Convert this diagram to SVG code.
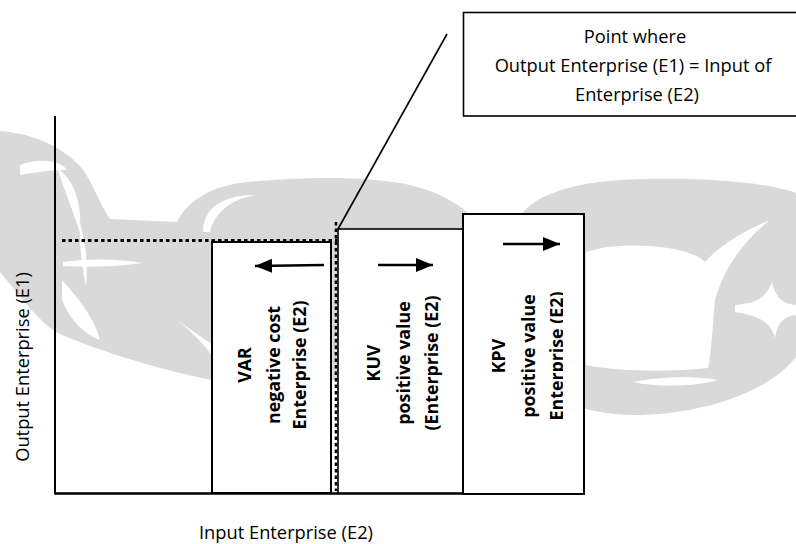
<svg xmlns="http://www.w3.org/2000/svg" width="796" height="544" viewBox="0 0 796 544">
<style>
.wm{fill:#d9d9d9}
.wh{fill:#ffffff}
.box{fill:#ffffff;stroke:#000;stroke-width:2}
.ax{stroke:#000;stroke-width:2;fill:none}
.dot{stroke:#000;stroke-width:3;stroke-dasharray:3.5 3;fill:none}
.lbl{font-family:"Open Sans","Liberation Sans",sans-serif;font-size:18.3px;fill:#000;text-anchor:middle}
.bl{font-family:"Open Sans","Liberation Sans",sans-serif;font-size:17.8px;font-weight:bold;fill:#000;text-anchor:middle}
.arr{stroke:#000;stroke-width:2.6;fill:none;marker-end:url(#ah)}
</style>
<defs>
<marker id="ah" markerUnits="userSpaceOnUse" markerWidth="18" markerHeight="14" refX="17" refY="7" orient="auto">
<path d="M0,0 L17,7 L0,14 Z" fill="#000"/>
</marker>
<clipPath id="kpvclip"><rect x="463" y="214" width="100" height="280"/></clipPath>
</defs>
<rect width="796" height="544" fill="#fff"/>
<g id="watermark">
<path class="wm" d="M0,131 C30,133 60,145 80,166 C92,180 100,205 110,219 L177,222 C185,205 205,188 240,183 C300,176 370,176 410,185 C440,192 460,205 470,215 L470,380 L212,380 C170,372 110,355 62,335 C40,325 20,295 0,272 Z"/>
<path class="wh" d="M203,232 C203,210 220,195 255,195 C230,200 215,212 210,232 Z"/>
<path class="wh" d="M57,168 C75,180 82,205 80,232 C72,210 65,190 57,168 Z"/>
<path class="wh" d="M20,165 C40,158 60,160 67,170 C50,170 35,172 20,175 Z"/>
<path class="wh" d="M63,262 C90,258 120,259 143,263 C120,266 90,268 63,266 Z"/>
<path class="wh" d="M80,223 C86,245 88,265 86,287 C82,265 79,245 80,223 Z"/>
<path class="wh" d="M62,280 C80,300 95,320 100,340 C85,335 70,320 62,300 Z"/>
<path class="wh" d="M177,320 C190,330 205,345 213,357 L213,345 C200,336 188,328 177,320 Z"/>
<path class="wm" d="M515,225 C525,200 560,184 620,180 C700,176 770,183 796,193 L796,357 C770,390 710,413 640,415 C580,416 530,395 515,350 Z"/>
<path class="wh" d="M586,252 C620,240 690,245 705,262 C720,245 745,230 770,220 C745,240 725,265 715,300 C712,330 712,350 708,368 C670,372 620,372 586,365 Z"/>
<path class="wh" d="M633,382 C660,376 700,376 718,380 C700,386 660,388 633,382 Z"/>
<path class="wh" d="M735,305 C755,303 765,300 772,282 C776,300 785,304 796,305 L796,315 C786,316 778,320 775,338 C770,320 757,316 735,312 Z"/>
</g>
<g id="axes">
<line class="ax" x1="55" y1="116" x2="55" y2="494.5"/>
<line class="ax" x1="55" y1="493.5" x2="463" y2="493.5" style="stroke-width:2.5"/>
</g>
<g id="var">
<rect class="box" x="212" y="242" width="119" height="251"/>
<text class="bl" transform="translate(251,365) rotate(-90)">VAR</text>
<text class="bl" transform="translate(280,365) rotate(-90)">negative cost</text>
<text class="bl" transform="translate(306,365) rotate(-90)">Enterprise (E2)</text>
</g>
<g id="kuv">
<rect class="box" x="338" y="229" width="125" height="264" style="stroke-width:1.6"/>
<text class="bl" transform="translate(380,363) rotate(-90)">KUV</text>
<text class="bl" transform="translate(409.5,363) rotate(-90)">positive value</text>
<text class="bl" transform="translate(437.5,363) rotate(-90)">(Enterprise (E2)</text>
</g>
<g id="kpv">
<rect class="box" x="463" y="214" width="121" height="280"/>
<g clip-path="url(#kpvclip)">
<text class="bl" transform="translate(505,356) rotate(-90)">KPV</text>
<text class="bl" transform="translate(534.5,356) rotate(-90)">positive value</text>
<text class="bl" transform="translate(562.5,356) rotate(-90)">Enterprise (E2)</text>
</g>
</g>
<g id="callout">
<rect x="463.5" y="12.5" width="340" height="103.5" fill="#fff" stroke="#000" stroke-width="1.6"/>
<text class="lbl" x="635" y="43">Point where</text>
<text class="lbl" x="633" y="72">Output Enterprise (E1) = Input of</text>
<text class="lbl" x="637" y="101">Enterprise (E2)</text>
</g>
<g id="axis-labels">
<text class="lbl" transform="translate(29,367) rotate(-90)">Output Enterprise (E1)</text>
<text class="lbl" x="286" y="539">Input Enterprise (E2)</text>
</g>
<g id="connectors">
<line class="dot" x1="62" y1="240.5" x2="337" y2="240.5"/>
<line class="dot" x1="336" y1="222" x2="336" y2="491" style="stroke-width:2.6"/>
<line x1="338" y1="229" x2="447" y2="34" stroke="#000" stroke-width="1.6"/>
<line class="arr" x1="324" y1="265" x2="255" y2="266"/>
<line class="arr" x1="378" y1="265" x2="433" y2="265"/>
<line class="arr" x1="503" y1="244" x2="560" y2="244"/>
</g>
</svg>
